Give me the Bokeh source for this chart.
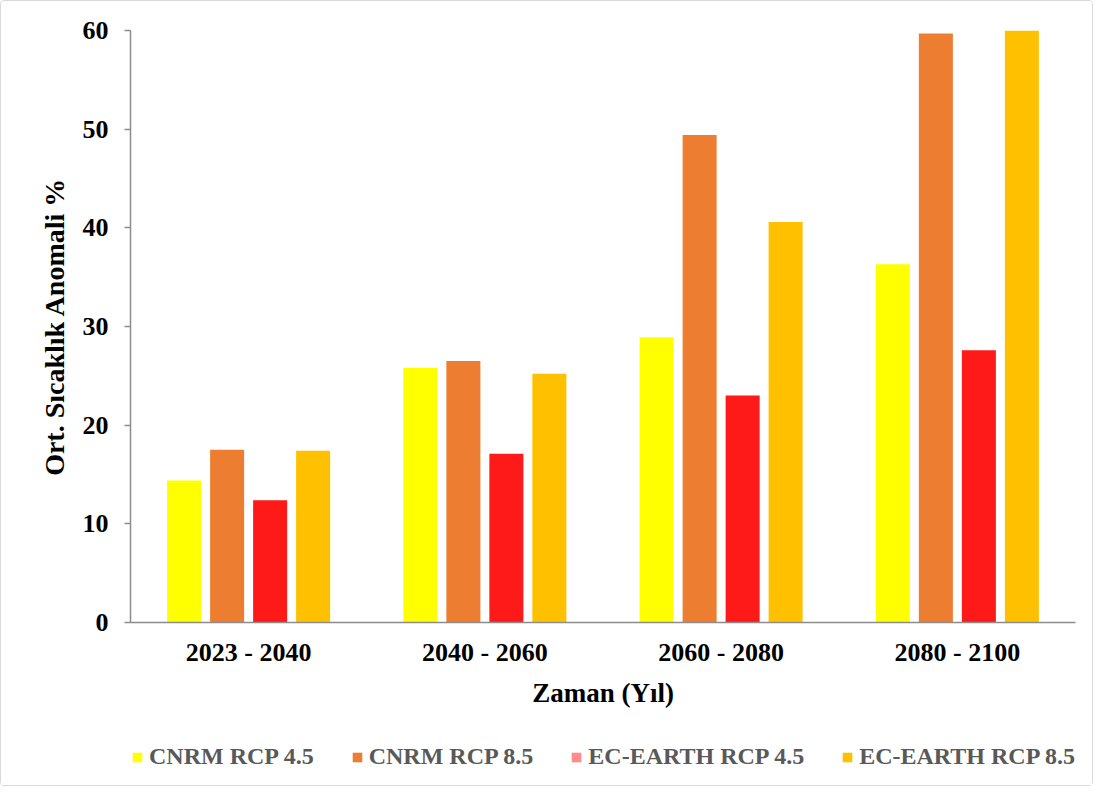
from bokeh.plotting import figure
from bokeh.layouts import column
from bokeh.models import FactorRange, Range1d, ColumnDataSource, Legend, LegendItem, FixedTicker
from bokeh.transform import dodge
from bokeh.embed import file_html
from bokeh.resources import INLINE

periods = ["2023 - 2040", "2040 - 2060", "2060 - 2080", "2080 - 2100"]
cnrm_45 = [14.4, 25.8, 28.9, 36.3]
cnrm_85 = [17.5, 26.5, 49.4, 59.7]
ec_45 = [12.4, 17.1, 23.0, 27.6]
ec_85 = [17.4, 25.2, 40.6, 60.1]
series_names = ["CNRM RCP 4.5", "CNRM RCP 8.5", "EC-EARTH RCP 4.5", "EC-EARTH RCP 8.5"]
y_ticks = [0, 10, 20, 30, 40, 50, 60]

colors = ["#FFFF00", "#ED7D31", "#FF1A1A", "#FFC000"]
legend_colors = ["#FFFF00", "#ED7D31", "#FF8B8B", "#FFC000"]
offsets = [-0.273, -0.091, 0.091, 0.273]
bar_w = 0.144

FONT = "Liberation Serif"
W = 1091

src = ColumnDataSource(dict(period=periods, s0=cnrm_45, s1=cnrm_85, s2=ec_45, s3=ec_85))

p = figure(x_range=FactorRange(*periods, range_padding=0), y_range=Range1d(0, 60),
           width=W, height=720, output_backend="svg", toolbar_location=None,
           min_border_left=129, min_border_right=17, min_border_top=29, min_border_bottom=99)
p.outline_line_color = None
p.grid.grid_line_color = None
p.background_fill_color = "white"
p.border_fill_color = "white"

for i, key in enumerate(["s0", "s1", "s2", "s3"]):
    p.vbar(x=dodge("period", offsets[i], range=p.x_range), top=key, width=bar_w,
           source=src, fill_color=colors[i], line_color=None)

# axes
axis_color = "#8C8C8C"
p.yaxis.ticker = FixedTicker(ticks=y_ticks)
p.yaxis.axis_line_color = axis_color
p.yaxis.axis_line_width = 1.5
p.yaxis.major_tick_line_color = axis_color
p.yaxis.major_tick_line_width = 1.5
p.yaxis.major_tick_out = 6
p.yaxis.major_tick_in = 0
p.yaxis.minor_tick_line_color = None
p.yaxis.major_label_standoff = 16
p.yaxis.major_label_text_font = FONT
p.yaxis.major_label_text_font_style = "bold"
p.yaxis.major_label_text_font_size = "26px"
p.yaxis.major_label_text_color = "black"
p.yaxis.axis_label = "Ort. Sıcaklık Anomali %"
p.yaxis.axis_label_text_font = FONT
p.yaxis.axis_label_text_font_style = "bold"
p.yaxis.axis_label_text_font_size = "28px"
p.yaxis.axis_label_text_color = "black"
p.yaxis.axis_label_standoff = 10

p.xaxis.axis_line_color = axis_color
p.xaxis.axis_line_width = 1.5
p.xaxis.major_tick_line_color = None
p.xaxis.minor_tick_line_color = None
p.xaxis.major_label_standoff = 9
p.xaxis.major_label_text_font = FONT
p.xaxis.major_label_text_font_style = "bold"
p.xaxis.major_label_text_font_size = "26px"
p.xaxis.major_label_text_color = "black"
p.xaxis.axis_label = "Zaman (Yıl)"
p.xaxis.axis_label_text_font = FONT
p.xaxis.axis_label_text_font_style = "bold"
p.xaxis.axis_label_text_font_size = "27px"
p.xaxis.axis_label_text_color = "black"
p.xaxis.axis_label_standoff = 8

# legend strip (its frame is aligned with the main plot's frame)
lg = figure(x_range=FactorRange(*periods, range_padding=0), y_range=Range1d(0, 1),
            width=W, height=64, output_backend="svg", toolbar_location=None,
            x_axis_type=None, y_axis_type=None,
            min_border_left=129, min_border_right=17, min_border_top=0, min_border_bottom=0)
lg.outline_line_color = None
lg.grid.grid_line_color = None
lg.background_fill_color = "white"
lg.border_fill_color = "white"

items = []
for i, key in enumerate(["s0", "s1", "s2", "s3"]):
    # zero-height swatch renderer, used only by the legend
    d = lg.vbar(x=dodge("period", offsets[i], range=lg.x_range), top=0, bottom=0, width=bar_w,
                source=src, fill_color=legend_colors[i], line_color=None)
    items.append(LegendItem(label=series_names[i], renderers=[d]))

legend = Legend(items=items, orientation="horizontal", location=(1, 15),
                glyph_width=12, glyph_height=12, label_standoff=6, spacing=37,
                padding=0, margin=0, border_line_color=None, background_fill_alpha=0,
                label_text_font=FONT, label_text_font_style="bold",
                label_text_font_size="24px", label_text_color="#595959")
lg.add_layout(legend, "center")

layout = column(p, lg, spacing=0)
layout.styles = {"border": "1px solid #D9D9D9", "border-radius": "4px"}

open("out.html", "w").write(file_html(layout, INLINE))
